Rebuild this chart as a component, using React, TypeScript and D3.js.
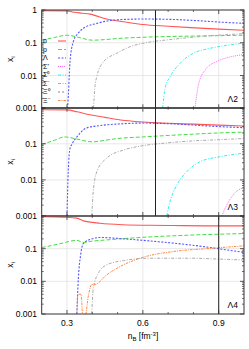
import React from "react";
import { scaleLinear, scaleLog, line, curveMonotoneX } from "d3";

type Pt = [number, number];

// nB [fm^-3], x_i  -- panel Λ2
const l2N: Pt[] = [[0.2, 0.95], [0.3, 0.94], [0.33, 0.85], [0.36, 0.8], [0.391, 0.75], [0.457, 0.53], [0.523, 0.44], [0.6, 0.36], [0.7, 0.32], [0.79, 0.29], [0.9, 0.26], [1.0, 0.24]];
const l2P: Pt[] = [[0.2, 0.12], [0.25, 0.145], [0.3, 0.17], [0.34, 0.15], [0.4, 0.12], [0.45, 0.125], [0.5, 0.135], [0.6, 0.147], [0.7, 0.155], [0.8, 0.16], [0.9, 0.165], [1.0, 0.17]];
const l2L: Pt[] = [[0.3, 0.001], [0.303, 0.0013], [0.312, 0.027], [0.325, 0.108], [0.345, 0.2], [0.365, 0.277], [0.418, 0.39], [0.497, 0.5], [0.6, 0.53], [0.7, 0.52], [0.8, 0.48], [0.9, 0.43], [1.0, 0.39]];
const l2Sm: Pt[] = [[0.405, 0.001], [0.41, 0.004], [0.418, 0.0093], [0.444, 0.026], [0.497, 0.048], [0.55, 0.076], [0.6, 0.096], [0.72, 0.128], [0.85, 0.16], [1.0, 0.19]];
const l2S0: Pt[] = [[0.678, 0.001], [0.688, 0.0041], [0.708, 0.0093], [0.748, 0.024], [0.8, 0.048], [0.867, 0.068], [0.93, 0.083], [1.0, 0.097]];
const l2Sp: Pt[] = [[0.806, 0.001], [0.82, 0.0052], [0.847, 0.015], [0.893, 0.027], [0.94, 0.036], [1.0, 0.044]];

// panel Λ3
const l3N: Pt[] = [[0.2, 0.88], [0.3, 0.87], [0.34, 0.77], [0.39, 0.64], [0.45, 0.54], [0.5, 0.47], [0.6, 0.4], [0.7, 0.37], [0.8, 0.35], [0.9, 0.33], [1.0, 0.31]];
const l3P: Pt[] = [[0.2, 0.096], [0.25, 0.125], [0.29, 0.155], [0.33, 0.14], [0.4, 0.113], [0.45, 0.125], [0.5, 0.14], [0.6, 0.155], [0.7, 0.17], [0.8, 0.185], [0.9, 0.2], [1.0, 0.21]];
const l3L: Pt[] = [[0.3, 0.001], [0.305, 0.017], [0.312, 0.075], [0.319, 0.096], [0.339, 0.155], [0.378, 0.275], [0.431, 0.32], [0.523, 0.36], [0.6, 0.376], [0.7, 0.36], [0.8, 0.33], [0.9, 0.3], [1.0, 0.28]];
const l3Sm: Pt[] = [[0.398, 0.001], [0.404, 0.0049], [0.418, 0.017], [0.457, 0.04], [0.523, 0.067], [0.589, 0.086], [0.69, 0.105], [0.787, 0.119], [0.9, 0.13], [1.0, 0.14]];
const l3S0: Pt[] = [[0.694, 0.001], [0.708, 0.0026], [0.735, 0.0074], [0.774, 0.017], [0.827, 0.032], [0.906, 0.044], [1.0, 0.055]];
const l3Sp: Pt[] = [[0.912, 0.001], [0.933, 0.0021], [0.959, 0.004], [1.0, 0.0062]];

// panel Λ4
const l4N: Pt[] = [[0.2, 0.96], [0.3, 0.92], [0.339, 0.86], [0.365, 0.71], [0.431, 0.6], [0.523, 0.54], [0.62, 0.52], [0.72, 0.51], [0.85, 0.5], [1.0, 0.5]];
const l4P: Pt[] = [[0.2, 0.108], [0.27, 0.14], [0.339, 0.18], [0.365, 0.155], [0.4, 0.17], [0.457, 0.185], [0.589, 0.22], [0.787, 0.26], [1.0, 0.29]];
const l4L: Pt[] = [[0.339, 0.001], [0.345, 0.0124], [0.354, 0.065], [0.365, 0.146], [0.4, 0.2], [0.431, 0.22], [0.523, 0.2], [0.655, 0.165], [0.787, 0.13], [0.906, 0.098], [1.0, 0.077]];
const l4Sm: Pt[] = [[0.398, 0.001], [0.404, 0.0062], [0.424, 0.0177], [0.457, 0.032], [0.523, 0.043], [0.629, 0.051], [0.787, 0.051], [0.9, 0.048], [1.0, 0.045]];
const l4Xm: Pt[] = [[0.339, 0.0009], [0.343, 0.004], [0.356, 0.004], [0.362, 0.0009], [0.372, 0.0009], [0.385, 0.0038], [0.398, 0.0081], [0.411, 0.0081], [0.457, 0.0158], [0.523, 0.032], [0.589, 0.051], [0.721, 0.082], [0.853, 0.1], [1.0, 0.122]];

const legendLabels = ["n", "p", "Λ", "Σ⁺", "Σ⁰", "Σ⁻", "Ξ⁰", "Ξ⁻"];
const xMajor = [0.3, 0.6, 0.9];
const xMinor = [0.4, 0.5, 0.7, 0.8];
const yMajor = [1, 0.1, 0.01, 0.001];

const styles: Record<string, { color: string; dash: string; w: number }> = {
  n: { color: "#f55", dash: "", w: 1.1 },
  p: { color: "#4d4", dash: "4,2", w: 1 },
  L: { color: "#55f", dash: "2,1.5", w: 1.1 },
  Sp: { color: "#f6f", dash: "1,1", w: 1 },
  S0: { color: "#3ee", dash: "3,1.5,1,1.5", w: 1 },
  Sm: { color: "#aaa", dash: "3,1.5,1,1.5", w: 1 },
  X0: { color: "#888", dash: "2,2", w: 1 },
  Xm: { color: "#f84", dash: "2.5,1,1,1", w: 1 },
};
const legendKeys = ["n", "p", "L", "Sp", "S0", "Sm", "X0", "Xm"];

const panels = [
  { top: 10, bottom: 108.3, name: "Λ2", vline: 0.65, showOne: true, series: { n: l2N, p: l2P, L: l2L, Sm: l2Sm, S0: l2S0, Sp: l2Sp } as Record<string, Pt[]> },
  { top: 107.7, bottom: 216, name: "Λ3", vline: 0.65, showOne: false, series: { n: l3N, p: l3P, L: l3L, Sm: l3Sm, S0: l3S0, Sp: l3Sp } as Record<string, Pt[]> },
  { top: 216, bottom: 314, name: "Λ4", vline: 0.9, showOne: false, series: { n: l4N, p: l4P, L: l4L, Sm: l4Sm, Xm: l4Xm } as Record<string, Pt[]> },
];

const W = 249;
const H = 349;
const left = 41.7;
const right = 244;
const font = "'Liberation Sans', Arial, sans-serif";

export default function App() {
  const x = scaleLinear().domain([0.2, 1.0]).range([left, right]);

  return (
    <svg width={W} height={H} style={{ position: "absolute", left: 0, top: 0, background: "#fff" }} fontFamily={font}>
      <defs>
        {panels.map((p, i) => (
          <clipPath id={`clip${i}`} key={i}>
            <rect x={left} y={p.top} width={right - left} height={p.bottom - p.top} />
          </clipPath>
        ))}
      </defs>
      {panels.map((p, i) => {
        const y = scaleLog().domain([0.001, 1]).range([p.bottom, p.top]);
        const gen = line<Pt>().x((d) => x(d[0])).y((d) => y(d[1])).curve(curveMonotoneX);
        const minorY: number[] = [];
        [0.001, 0.01, 0.1].forEach((d) => {
          for (let k = 2; k <= 9; k++) minorY.push(d * k);
        });
        const cy = (p.top + p.bottom) / 2;
        return (
          <g key={i}>
            {/* grid */}
            {xMajor.map((v) => (
              <line key={"gx" + v} x1={x(v)} x2={x(v)} y1={p.top} y2={p.bottom} stroke="#e2e2e2" strokeWidth={0.8} />
            ))}
            {[0.1, 0.01].map((v) => (
              <line key={"gy" + v} x1={left} x2={right} y1={y(v)} y2={y(v)} stroke="#e2e2e2" strokeWidth={0.8} />
            ))}
            {/* curves */}
            <g clipPath={`url(#clip${i})`}>
              {Object.entries(p.series).map(([k, data]) => (
                <path
                  key={k}
                  d={gen(data) || ""}
                  fill="none"
                  stroke={styles[k].color}
                  strokeWidth={styles[k].w}
                  strokeDasharray={styles[k].dash}
                />
              ))}
            </g>
            <line x1={x(p.vline)} x2={x(p.vline)} y1={p.top} y2={p.bottom} stroke="#222" strokeWidth={1} />
            {/* frame */}
            <rect x={left} y={p.top} width={right - left} height={p.bottom - p.top} fill="none" stroke="#333" strokeWidth={1} />
            {/* ticks */}
            {yMajor.map((v) => (
              <g key={"ty" + v}>
                <line x1={left} x2={left + 4} y1={y(v)} y2={y(v)} stroke="#333" strokeWidth={0.8} />
                <line x1={right} x2={right - 4} y1={y(v)} y2={y(v)} stroke="#333" strokeWidth={0.8} />
              </g>
            ))}
            {minorY.map((v) => (
              <g key={"my" + v}>
                <line x1={left} x2={left + 2} y1={y(v)} y2={y(v)} stroke="#333" strokeWidth={0.7} />
                <line x1={right} x2={right - 2} y1={y(v)} y2={y(v)} stroke="#333" strokeWidth={0.7} />
              </g>
            ))}
            {xMajor.map((v) => (
              <g key={"tx" + v}>
                <line x1={x(v)} x2={x(v)} y1={p.bottom} y2={p.bottom - 4} stroke="#333" strokeWidth={0.8} />
                <line x1={x(v)} x2={x(v)} y1={p.top} y2={p.top + 4} stroke="#333" strokeWidth={0.8} />
              </g>
            ))}
            {xMinor.map((v) => (
              <g key={"mx" + v}>
                <line x1={x(v)} x2={x(v)} y1={p.bottom} y2={p.bottom - 2} stroke="#333" strokeWidth={0.7} />
                <line x1={x(v)} x2={x(v)} y1={p.top} y2={p.top + 2} stroke="#333" strokeWidth={0.7} />
              </g>
            ))}
            {/* y tick labels */}
            {yMajor
              .filter((v) => v !== 1 || p.showOne)
              .map((v) => (
                <text key={"ly" + v} x={37} y={y(v)} dy="0.35em" textAnchor="end" fontSize={8.5} fill="#000">
                  {String(v)}
                </text>
              ))}
            <text transform={`translate(13,${cy}) rotate(-90)`} textAnchor="middle" fontSize={8.5} fill="#000">
              x<tspan fontSize={6} dy={2}>i</tspan>
            </text>
            <text x={238} y={p.bottom - 6} textAnchor="end" fontSize={8.5} fill="#000">
              {p.name}
            </text>
          </g>
        );
      })}
      {/* legend */}
      {legendKeys.map((k, i) => {
        const ly = 41 + i * 8.5;
        return (
          <g key={"lg" + k}>
            <text x={43} y={ly} dy="0.35em" fontSize={7} fill="#000">
              {legendLabels[i]}
            </text>
            <line x1={58} x2={66} y1={ly} y2={ly} stroke={styles[k].color} strokeWidth={styles[k].w} strokeDasharray={styles[k].dash} />
          </g>
        );
      })}
      {/* x tick labels */}
      {xMajor.map((v) => (
        <text key={"lx" + v} x={x(v)} y={326} textAnchor="middle" fontSize={8.5} fill="#000">
          {String(v)}
        </text>
      ))}
      <text x={143} y={339} textAnchor="middle" fontSize={8.5} fill="#000">
        n<tspan fontSize={6} dy={2}>B</tspan>
        <tspan dy={-2}> [fm</tspan>
        <tspan fontSize={6} dy={-3}>-3</tspan>
        <tspan dy={3}>]</tspan>
      </text>
    </svg>
  );
}
